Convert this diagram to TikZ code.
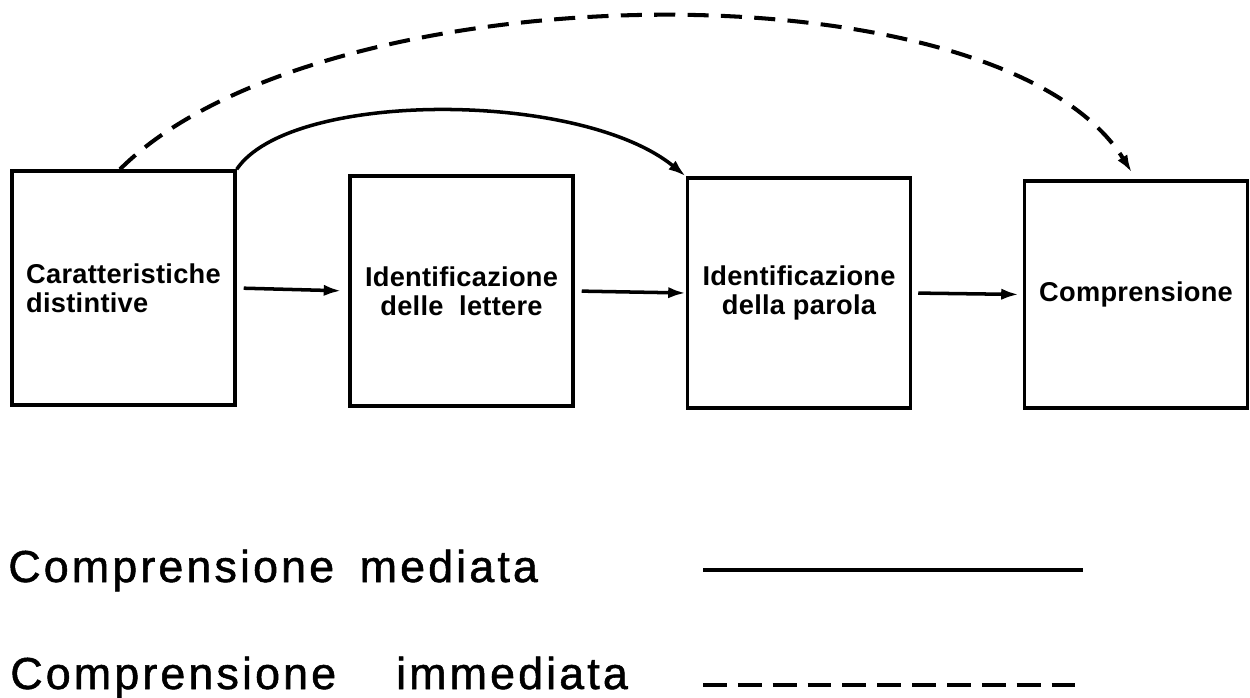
\documentclass[tikz,border=0pt]{standalone}
\usepackage{fontspec}
\setmainfont{Liberation Sans}
\newfontfamily\boxfont[LetterSpace=1]{Liberation Sans}
\newfontfamily\legfont[LetterSpace=7,FakeBold=1.2]{Liberation Sans}
\usepackage{tikz}
\usetikzlibrary{positioning,arrows.meta}

\begin{document}
\begin{tikzpicture}[x=0.02cm, y=-0.02cm,
        stage/.style={draw, line width=2pt, minimum width=4.46cm, minimum height=4.6cm,
            inner sep=0pt, align=center, font=\boxfont\bfseries\fontsize{15.5}{16.5}\selectfont},
        flow/.style={line width=2pt, -{Latex[length=10pt,width=6.5pt]}},
        direct/.style={flow, line width=2.3pt, dash pattern=on 12pt off 7pt},
        legend/.style={anchor=base west, inner sep=0pt, font=\legfont\fontsize{25.5}{28}\selectfont}]
        \useasboundingbox (0,0) rectangle (1250,697);
        % the four stages
        \node[stage, minimum height=4.68cm, align=left] (car) at (123.5,288) {Caratteristiche\\distintive};
        \node[stage] (let) at (461.5,291) {Identificazione\\delle\ \ lettere};
        \node[stage] (par) at (799,293) {Identificazione\\della parola};
        \node[stage, minimum height=4.54cm] (comp) at (1136,294.5) {Comprensione};
        \draw[flow, shorten <=0.14cm, shorten >=0.14cm] (car.east) -- (let.west);
        \draw[flow, shorten <=0.14cm] (let.east) -- (par.west);
        \draw[flow, shorten <=0.12cm, shorten >=0.08cm] (par.east) -- (comp.west);
        % the two jumps
        \draw[flow] (car.north east) .. controls (290,90) and (580,90) .. (par.north west);
        \draw[direct, shorten >=0.16cm] ([xshift=-0.07cm]car.north) .. controls (320,-30) and (1000,-40) .. (comp.north);
        % legend
        \node[legend] (med) at (8,582) {Comprensione\hspace{0.2cm} mediata};
        \node[legend] (imm) at (10,689) {Comprensione\hspace{1.2cm}immediata};
        \coordinate (med-a) at (703,570);
        \coordinate (med-b) at (1083,570);
        \coordinate (imm-a) at (703,685);
        \coordinate (imm-b) at (1077,685);
        \draw[line width=2pt] (med-a) -- (med-b);
        \draw[line width=2.5pt, dash pattern=on 13.6pt off 6.24pt] (imm-a) -- (imm-b);
    \end{tikzpicture}
\end{document}
